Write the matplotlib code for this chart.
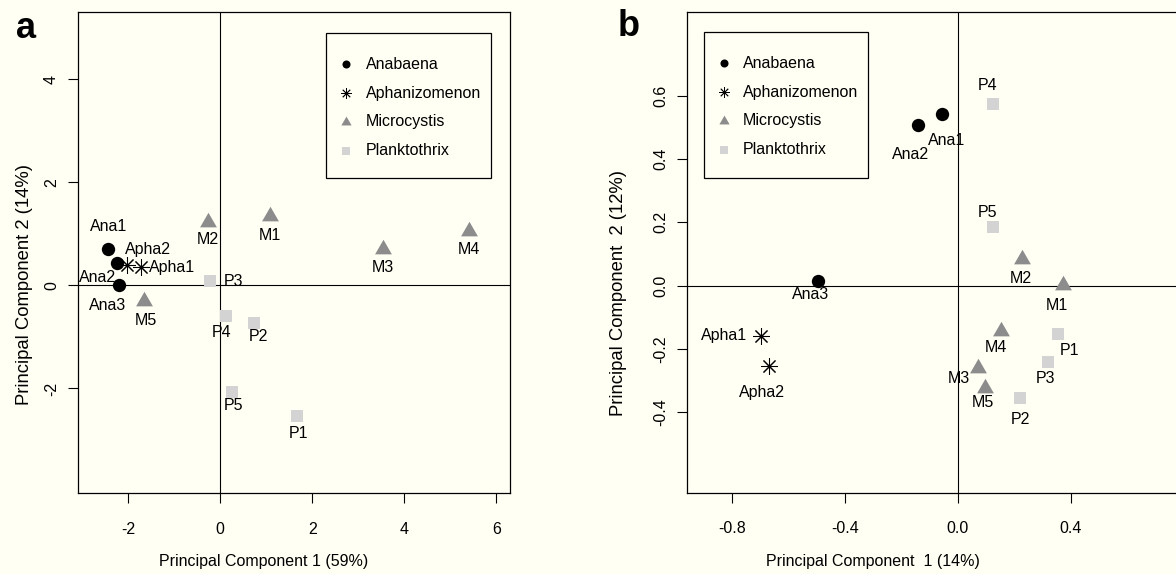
import matplotlib
matplotlib.use("Agg")
import matplotlib.pyplot as plt
from matplotlib.patches import Rectangle

plt.rcParams["font.family"] = ["Liberation Sans", "DejaVu Sans"]
plt.rcParams["font.size"] = 11.5
plt.rcParams["axes.unicode_minus"] = False

groups = ["Anabaena", "Aphanizomenon", "Microcystis", "Planktothrix"]
names = ["Ana1", "Ana2", "Ana3", "Apha1", "Apha2",
         "M1", "M2", "M3", "M4", "M5",
         "P1", "P2", "P3", "P4", "P5"]
group_of = [0, 0, 0, 1, 1, 2, 2, 2, 2, 2, 3, 3, 3, 3, 3]

# panel a: PCA scores
a_pc1 = [-2.43, -2.25, -2.20, -1.71, -2.03, 1.09, -0.27, 3.54, 5.41, -1.65,
         1.68, 0.74, -0.21, 0.13, 0.25]
a_pc2 = [0.71, 0.43, 0.00, 0.35, 0.39, 1.34, 1.24, 0.71, 1.06, -0.31,
         -2.54, -0.72, 0.08, -0.59, -2.06]

# panel b: PCA scores
b_pc1 = [-0.054, -0.139, -0.496, -0.695, -0.668, 0.372, 0.229, 0.071, 0.152, 0.098,
         0.354, 0.219, 0.321, 0.126, 0.124]
b_pc2 = [0.541, 0.507, 0.015, -0.159, -0.253, 0.002, 0.083, -0.261, -0.142, -0.324,
         -0.154, -0.356, -0.242, 0.573, 0.186]

a_xticks = [-2, 0, 2, 4, 6]
a_yticks = [-2, 0, 2, 4]
b_xticks = [-0.8, -0.4, 0.0, 0.4]
b_yticks = [-0.4, -0.2, 0.0, 0.2, 0.4, 0.6]

# label placement (pixel offsets from each point, y down)
a_offsets = [(0, -22), (-19, 14), (-11, 20), (31, 0), (21, -16),
             (0, 19), (0, 18), (0, 19), (0, 19), (2, 19),
             (1, 17), (4, 14), (23, 0), (-5, 17), (2, 14)]
b_offsets = [(4, 26), (-8, 29), (-7, 14), (-37, 0), (-7, 27),
             (-6, 21), (-2, 19), (-19, 10), (-5, 17), (-2, 14),
             (12, 16), (1, 21), (-3, 16), (-6, -19), (-5, -14)]

bg = "#fffff4"
styles = [
    dict(marker="o", color="black", ms=9.6, mew=0),
    dict(marker=(8, 2, 0), color="black", ms=12, mew=0.75),
    dict(marker=(3, 0, 0), color="#8c8c8c", ms=14, mew=0),
    dict(marker="s", color="#d3d3d3", ms=8.6, mew=0),
]
key_sizes = [5.8, 7.5, 8.5, 5.8]


def draw_key(ax, left, top, width, height):
    bb = ax.get_window_extent()
    w, h = bb.width, bb.height
    ax.add_patch(Rectangle((left, top - height / h), width / w, height / h,
                           transform=ax.transAxes, fill=False, ec="black",
                           lw=0.9, zorder=5))
    for i, g in enumerate(groups):
        yy = top - (31 + 28.8 * i) / h
        st = dict(styles[i])
        st["ms"] = key_sizes[i]
        if i == 1:
            st["mew"] = 0.6
        ax.plot([left + 20 / w], [yy], transform=ax.transAxes, ls="none",
                clip_on=False, zorder=6, **st)
        ax.text(left + 39.5 / w, yy, g, transform=ax.transAxes,
                ha="left", va="center", zorder=6)


def panel(ax, xs, ys, offsets, xlim, ylim, xticks, yticks, fmt, xlabel, ylabel):
    ax.set_facecolor(bg)
    ax.axhline(0, color="black", lw=0.8, zorder=1)
    ax.axvline(0, color="black", lw=0.8, zorder=1)
    for gi in range(len(groups)):
        idx = [i for i in range(len(names)) if group_of[i] == gi]
        ax.plot([xs[i] for i in idx], [ys[i] for i in idx], ls="none",
                zorder=3, **styles[gi])
    for i, n in enumerate(names):
        dx, dy = offsets[i]
        ax.annotate(n, (xs[i], ys[i]), xytext=(dx * 0.72, -dy * 0.72),
                    textcoords="offset points", ha="center", va="center",
                    zorder=4)
    ax.set_xlim(*xlim)
    ax.set_ylim(*ylim)
    ax.set_xticks(xticks)
    ax.set_yticks(yticks)
    ax.set_xticklabels([fmt.format(t) for t in xticks])
    ax.set_yticklabels([fmt.format(t) for t in yticks], rotation=90, va="center")
    ax.tick_params(direction="out", length=7.2, width=0.8)
    ax.tick_params(axis="x", pad=13.5)
    ax.tick_params(axis="y", pad=6.5)
    for s in ax.spines.values():
        s.set_linewidth(0.9)
    ax.set_xlabel(xlabel)
    ax.set_ylabel(ylabel, fontsize=13.3)


fig = plt.figure(figsize=(11.76, 5.74), dpi=100)
fig.patch.set_facecolor(bg)

ax_a = fig.add_axes([78 / 1176, 81 / 574, 432 / 1176, 481 / 574])
ax_b = fig.add_axes([687.3 / 1176, 81.3 / 574, 496.4 / 1176, 481 / 574])

panel(ax_a, a_pc1, a_pc2, a_offsets, (-3.09, 6.30), (-4.03, 5.31),
      a_xticks, a_yticks, "{:g}",
      "Principal Component 1 (59%)", "Principal Component 2 (14%)")
panel(ax_b, b_pc1, b_pc2, b_offsets, (-0.957, 0.8), (-0.654, 0.865),
      b_xticks, b_yticks, "{:.1f}",
      "Principal Component  1 (14%)", "Principal Component  2 (12%)")

ax_a.xaxis.set_label_coords(0.4306, -0.127)
ax_a.yaxis.set_label_coords(-0.104, 0.4345)
ax_b.xaxis.set_label_coords(0.374, -0.127)
ax_b.yaxis.set_label_coords(-0.1215, 0.416)

draw_key(ax_a, (326 - 78) / 432, (493 - 33.3) / 481, 164.7, 145)
draw_key(ax_b, (703.7 - 687.3) / 496.4, (492.7 - 32.3) / 481, 164, 146)

fig.text(26 / 1176, 1 - 38 / 574, "a", ha="center", va="baseline",
         fontsize=26, fontweight="bold")
fig.text(629 / 1176, 1 - 36 / 574, "b", ha="center", va="baseline",
         fontsize=26, fontweight="bold")

fig.savefig("out.png", dpi=100, facecolor=bg)
